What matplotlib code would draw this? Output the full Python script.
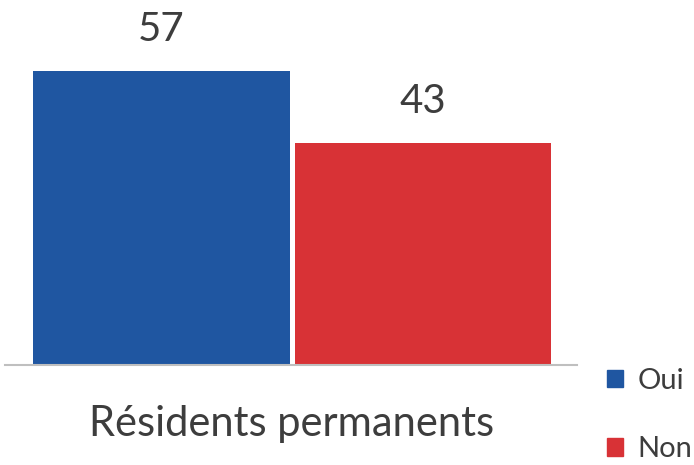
import matplotlib
matplotlib.use("Agg")
import matplotlib.pyplot as plt
from matplotlib.patches import Patch

# Data
category = "Résidents permanents"
series = ["Oui", "Non"]
values = [57, 43]
colors = ["#1F56A1", "#D83236"]

plt.rcParams["font.family"] = ["Lato", "DejaVu Sans"]
TEXT = "#3D3D3D"

fig = plt.figure(figsize=(6.94, 4.65), dpi=100)
ax = fig.add_axes([5 / 694, 100 / 465, 572 / 694, 365 / 465])

xs = list(range(len(values)))
bars = ax.bar(xs, values, width=0.98, color=colors)
for x, v in zip(xs, values):
    ax.annotate(str(v), (x, v), xytext=(0, 22), textcoords="offset points",
                ha="center", va="baseline", fontsize=29, color=TEXT)

ax.set_xlim(-0.598, 1.589)
ax.set_ylim(0, 70.8)
for s in ["top", "right", "left"]:
    ax.spines[s].set_visible(False)
ax.spines["bottom"].set_color("#BFBFBF")
ax.spines["bottom"].set_linewidth(1.5)
ax.set_xticks([])
ax.set_yticks([])

fig.text(292 / 694, 1 - 436 / 465, category, ha="center", va="baseline",
         fontsize=30, color=TEXT)

handles = [Patch(color=c) for c in colors]
fig.legend(handles, series, loc="upper left", bbox_to_anchor=(607 / 694, 1 - 368 / 465),
           frameon=False, fontsize=21, handlelength=0.55, handleheight=0.55,
           handletextpad=0.5, labelspacing=1.45, borderaxespad=0, borderpad=0,
           labelcolor=TEXT)

fig.savefig("out.png", dpi=100)
